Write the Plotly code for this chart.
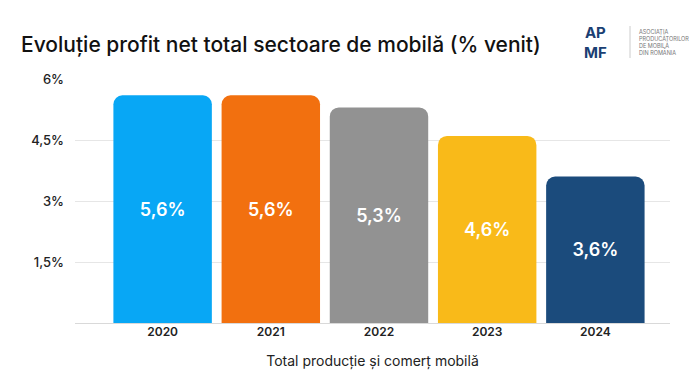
import plotly.graph_objects as go

years = ["2020", "2021", "2022", "2023", "2024"]
profit = [5.6, 5.6, 5.3, 4.6, 3.6]
labels = ["5,6%", "5,6%", "5,3%", "4,6%", "3,6%"]
colors = ["#08A7F5", "#F2700F", "#929292", "#F9BA19", "#1B4B7C"]
tick_vals = [0, 1.5, 3, 4.5, 6]
tick_text = ["", "1,5%", "3%", "4,5%", "6%"]

FONT = "Inter"

fig = go.Figure(go.Bar(
    x=years, y=profit, text=labels,
    marker=dict(color=colors, line=dict(width=0)),
    width=0.91,
    textposition="inside", insidetextanchor="middle",
    textfont=dict(color="white", size=18, family=FONT, weight=600),
    hoverinfo="skip",
))

fig.update_layout(
    width=700, height=386,
    margin=dict(l=75, r=30, t=79, b=63),
    paper_bgcolor="white", plot_bgcolor="white",
    barcornerradius=9,
    showlegend=False,
    font=dict(family=FONT, color="#1a1a1a"),
    title=dict(text="Evoluție profit net total sectoare de mobilă (% venit)",
               x=0.03, xanchor="left", y=0.885, yanchor="middle",
               font=dict(size=21, family=FONT, color="#111", weight=500)),
    xaxis=dict(type="category", range=[-0.81, 4.69], showgrid=False,
               tickfont=dict(size=12, family=FONT, color="#222", weight=600),
               ticks="", showline=False,
               title=dict(text="Total producție și comerț mobilă",
                          font=dict(size=14, family=FONT, color="#222"),
                          standoff=18)),
    yaxis=dict(range=[0, 6], tickvals=tick_vals, ticktext=tick_text,
               showgrid=True, gridcolor="#e6e6e6", gridwidth=1,
               zeroline=True, zerolinecolor="#d9d9d9", zerolinewidth=1,
               tickfont=dict(size=13, family=FONT, color="#222", weight=500),
               ticks="", ticklabelstandoff=10),
)

# logo approximation
navy = "#1B3F73"
ylogo = 1 + (79 - 42) / 244
fig.add_annotation(text="<b>AP</b><br><b>MF</b>", xref="paper", yref="paper",
                   x=(595 - 75) / 595, y=ylogo, xanchor="center", yanchor="middle",
                   showarrow=False, align="center",
                   font=dict(size=15, family=FONT, color=navy))
fig.add_annotation(text="ASOCIAȚIA<br>PRODUCĂTORILOR<br>DE MOBILĂ<br>DIN ROMÂNIA",
                   xref="paper", yref="paper",
                   x=(637 - 75) / 595, y=ylogo, xanchor="left", yanchor="middle",
                   showarrow=False, align="left",
                   font=dict(size=5.5, family=FONT, color="#777"))
fig.add_shape(type="line", xref="paper", yref="paper",
              x0=(630 - 75) / 595, x1=(630 - 75) / 595,
              y0=1 + (79 - 58) / 244, y1=1 + (79 - 26) / 244,
              line=dict(color="#ccc", width=1))

fig.write_html("out.html", config={"displayModeBar": False},
               post_script="document.body.style.margin='0';")
